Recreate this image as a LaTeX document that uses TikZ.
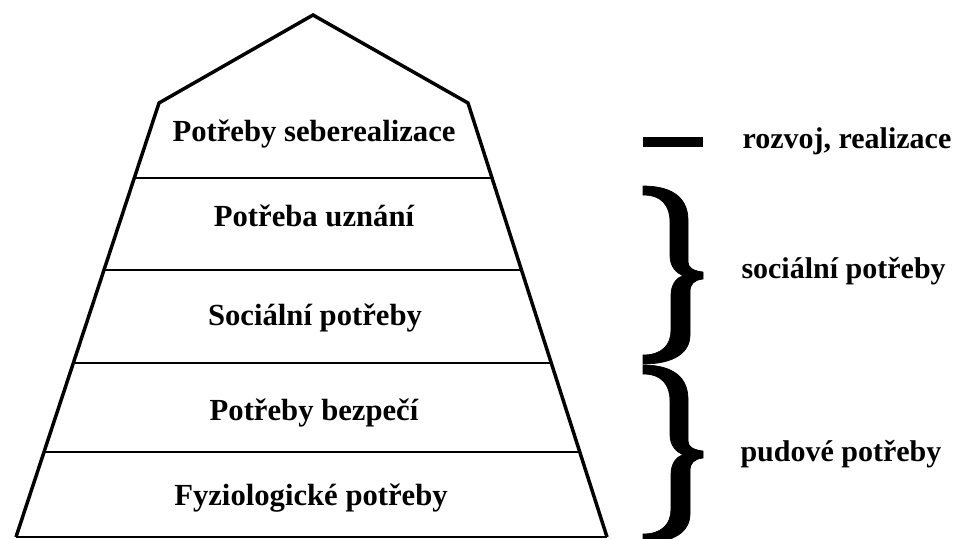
\documentclass[tikz,border=0pt]{standalone}
\usepackage{fontspec}
\setmainfont{Liberation Serif}

\tikzset{every picture/.style={line width=0.75pt}}
\tikzset{
  pyramid/.style={line width=2.6pt, line join=miter},
  level/.style={anchor=base, inner sep=0.75pt, font=\fontsize{23}{27}\selectfont\bfseries},
  note/.style={anchor=base west, inner sep=0.75pt, font=\fontsize{22.5}{27}\selectfont\bfseries},
  bracefill/.style={fill=black, draw=black, line width=0.5pt}
}

\begin{document}
\begin{tikzpicture}[x=0.75pt,y=0.75pt,yscale=-1,xscale=1]
%set diagram left start at 0, and has height of 539
\useasboundingbox (0,0) rectangle (957,539);

%Shape: Pyramid [id:pyr]
\draw [pyramid] (16,537) -- (159,103) -- (313,15) -- (468,103) -- (607,537) ;
%Straight Lines [id:base]
\draw [line width=1.2pt] (16,537) -- (607,537) ;
%Straight Lines [id:lvl1]
\draw [line width=1.2pt] (134.3,178) -- (492,178) ;
%Straight Lines [id:lvl2]
\draw [line width=1.2pt] (104,270) -- (521.5,270) ;
%Straight Lines [id:lvl3]
\draw [line width=1.2pt] (73.3,363) -- (551.3,363) ;
%Straight Lines [id:lvl4]
\draw [line width=1.2pt] (44,452) -- (579.8,452) ;

%Shape: Rectangle [id:dash]
\fill (643,137) rectangle (703,147) ;

%Shape: Brace [id:brace1]
\draw [bracefill] (643,186) .. controls (675,186) and (688,200) .. (688,220) -- (688,262) .. controls (688,268) and (694,271) .. (703,272) -- (703,279) .. controls (694,280) and (690,284) .. (690,292) -- (690,335) .. controls (690,352) and (675,364) .. (643,364) -- (643,355) .. controls (662,355) and (671,345) .. (671,330) -- (671,295) .. controls (671,285) and (676,278) .. (683,275.5) .. controls (676,273) and (670,266) .. (670,256) -- (670,222) .. controls (670,206) and (662,195) .. (643,195) -- cycle ;
%Shape: Brace [id:brace2]
\draw [bracefill, shift={(0,179)}] (643,186) .. controls (675,186) and (688,200) .. (688,220) -- (688,262) .. controls (688,268) and (694,271) .. (703,272) -- (703,279) .. controls (694,280) and (690,284) .. (690,292) -- (690,335) .. controls (690,352) and (675,364) .. (643,364) -- (643,355) .. controls (662,355) and (671,345) .. (671,330) -- (671,295) .. controls (671,285) and (676,278) .. (683,275.5) .. controls (676,273) and (670,266) .. (670,256) -- (670,222) .. controls (670,206) and (662,195) .. (643,195) -- cycle ;

% Text Node
\node [level] (selfreal) at (314,141) {Potřeby seberealizace};
% Text Node
\node [level] (esteem) at (314,226) {Potřeba uznání};
% Text Node
\node [level] (social) at (315,325) {Sociální potřeby};
% Text Node
\node [level] (safety) at (314,420) {Potřeby bezpečí};
% Text Node
\node [level] (physio) at (311,505) {Fyziologické potřeby};

% Text Node
\node [note] (growth) at (741,148) {rozvoj, realizace};
% Text Node
\node [note] (socialneeds) at (740,278) {sociální potřeby};
% Text Node
\node [note] (drives) at (739,461) {pudové potřeby};

\end{tikzpicture}
\end{document}
